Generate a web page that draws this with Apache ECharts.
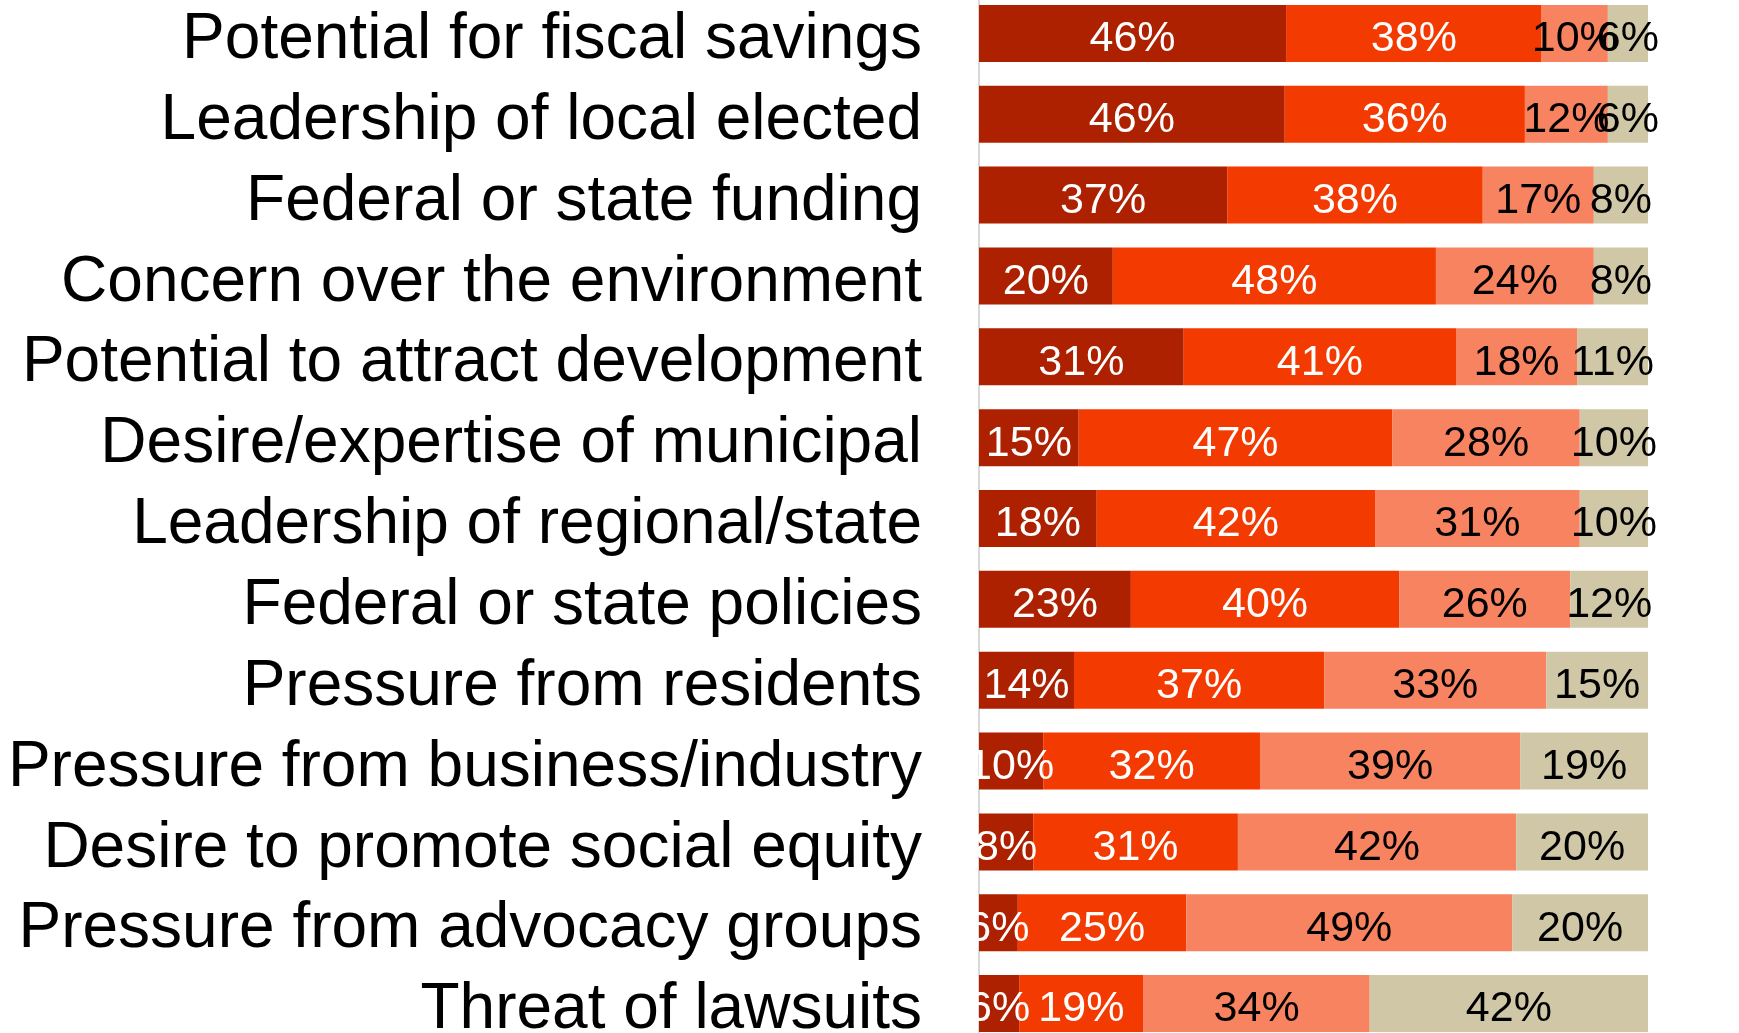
<!DOCTYPE html>
<html>
<head>
<meta charset="utf-8">
<script src="https://cdn.jsdelivr.net/npm/echarts@6/dist/echarts.min.js"></script>
<style>
  html, body { margin: 0; padding: 0; background: #fff; overflow: hidden; }
  #main { position: absolute; left: 0; top: -7px; width: 1739px; height: 1051px; }
</style>
</head>
<body>
<div id="main"></div>
<script>
// categories, top to bottom
var categories = [
    'Potential for fiscal savings',
    'Leadership of local elected',
    'Federal or state funding',
    'Concern over the environment',
    'Potential to attract development',
    'Desire/expertise of municipal',
    'Leadership of regional/state',
    'Federal or state policies',
    'Pressure from residents',
    'Pressure from business/industry',
    'Desire to promote social equity',
    'Pressure from advocacy groups',
    'Threat of lawsuits'
];

// shares in percent
var seg1 = [45.9, 45.7, 37.1, 20.0, 30.6, 14.9, 17.6, 22.7, 14.2, 9.6, 8.1, 5.8, 6.0];
var seg2 = [38.2, 35.9, 38.2, 48.3, 40.7, 46.9, 41.6, 40.1, 37.4, 32.4, 30.6, 25.2, 18.6];
var seg3 = [9.9, 12.4, 16.6, 23.6, 18.1, 28.0, 30.6, 25.6, 33.2, 38.9, 41.6, 48.7, 33.8];
var seg4 = [6.0, 6.0, 8.1, 8.1, 10.6, 10.2, 10.2, 11.6, 15.2, 19.1, 19.7, 20.3, 41.6];

var colors = ['#ad2100', '#f33a00', '#f78360', '#cfc7a6'];
var labelColors = ['#ffffff', '#ffffff', '#000000', '#000000'];

function makeSeries(data, i) {
    return {
        type: 'bar',
        stack: 'all',
        barWidth: 57,
        data: data,
        itemStyle: { color: colors[i] },
        label: {
            show: true,
            position: 'inside',
            formatter: function (p) { return '{v|' + Math.round(p.value) + '%}'; },
            rich: {
                v: {
                    color: labelColors[i],
                    fontFamily: 'Liberation Sans',
                    fontSize: 43,
                    padding: [12, 0, 0, 0]
                }
            }
        },
        labelLayout: { hideOverlap: false },
        silent: true
    };
}

var chart = echarts.init(document.getElementById('main'));
chart.setOption({
    animation: false,
    grid: { left: 979, width: 669, top: 0, bottom: 0 },
    xAxis: {
        type: 'value',
        min: 0,
        max: 100,
        show: false
    },
    yAxis: {
        type: 'category',
        inverse: true,
        data: categories,
        axisLine: { show: true, lineStyle: { color: '#d9d9d9', width: 2 } },
        axisTick: { show: false },
        axisLabel: {
            interval: 0,
            margin: 57,
            formatter: function (v) { return '{c|' + v + '}'; },
            rich: {
                c: {
                    color: '#000',
                    fontFamily: 'Liberation Sans',
                    fontSize: 64,
                    padding: [14, 0, 0, 0]
                }
            }
        }
    },
    series: [
        makeSeries(seg1, 0),
        makeSeries(seg2, 1),
        makeSeries(seg3, 2),
        makeSeries(seg4, 3)
    ]
});
</script>
</body>
</html>
